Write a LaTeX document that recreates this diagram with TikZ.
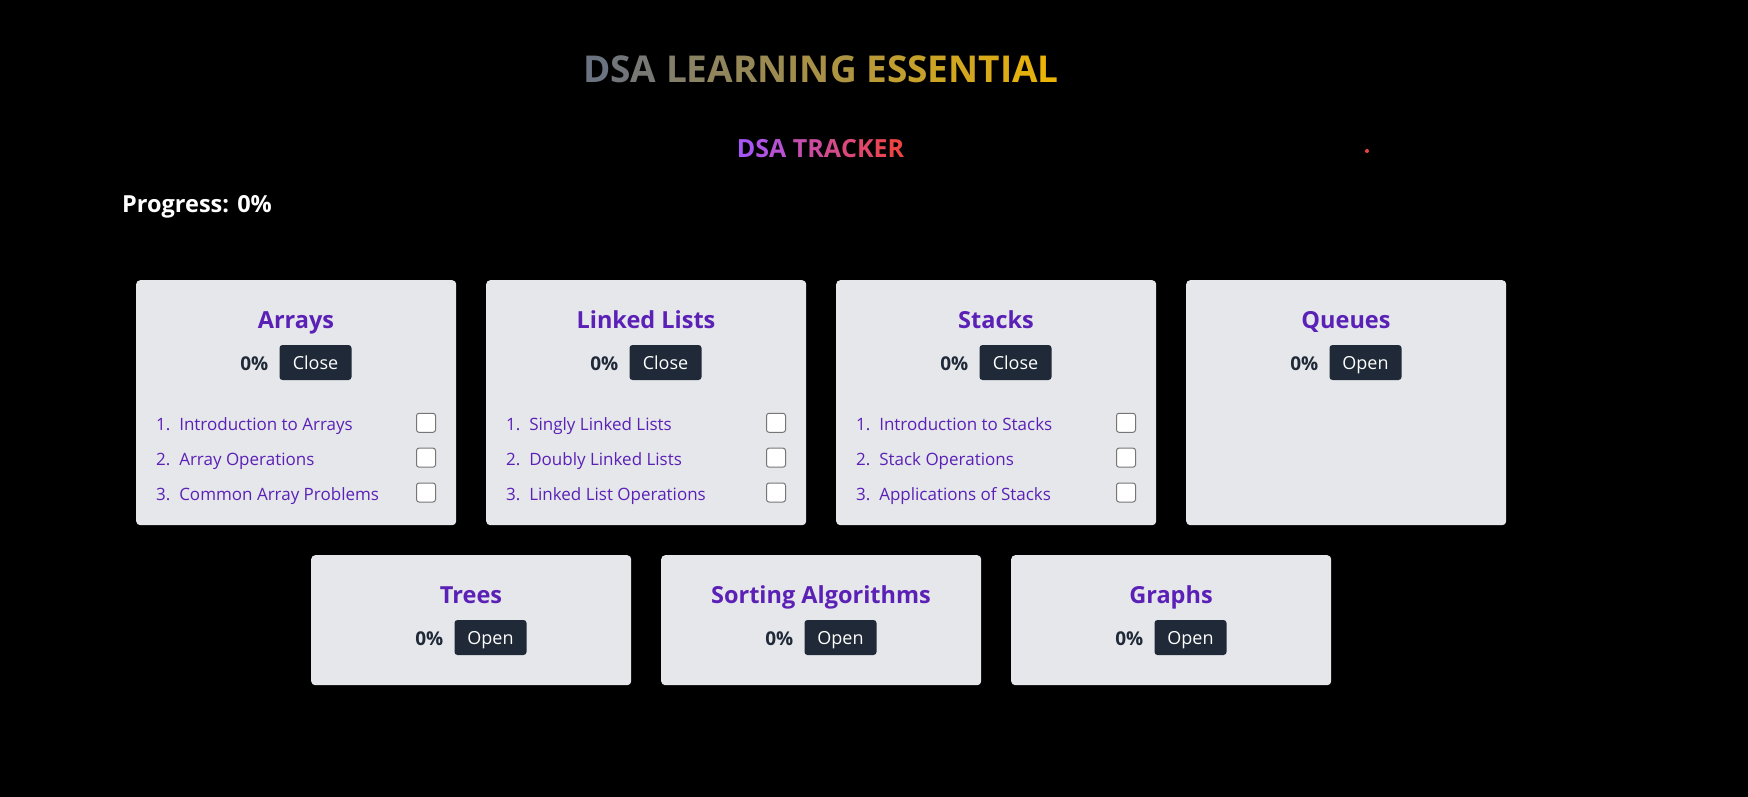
\documentclass[tikz,border=0pt]{standalone}
\usepackage{fontspec}
\setmainfont{Open Sans}
\definecolor{cardc}{HTML}{E5E7EB}
\definecolor{purp}{HTML}{5B21B6}
\definecolor{btnc}{HTML}{1F2937}
\definecolor{pctc}{HTML}{1F2937}
\definecolor{boxb}{HTML}{767676}
\definecolor{tgray}{HTML}{6B7280}
\definecolor{tgold}{HTML}{EAB308}
\definecolor{tpurple}{HTML}{A855F7}
\definecolor{tred}{HTML}{EF4444}
\newcommand\gA[2]{\textcolor{tgold!#1!tgray}{#2}}
\newcommand\gB[2]{\textcolor{tred!#1!tpurple}{#2}}
\newcommand\cardtop[6]{%
  \node[card, minimum height=#4] (#1) at (#2,#3) {};
  \node[ctitle] (#1-title) at ({#2+160},{#3+48}) {#5};
  \node[pct] (#1-pct) at ({#2+132.5},{#3+90.5}) {0\%};
  \node[btn] (#1-btn) at ({#2+179.5},{#3+82.5}) {#6};
}
\newcommand\cditem[5]{%
  \node[itemtxt] (#1-i#4) at ({#2+20},{#3+150.3+34.85*(#4-1)}) {#4.\ \ #5};
  \node[chk] (#1-c#4) at ({#2+290},{#3+142.8+34.85*(#4-1)}) {};
}
\begin{document}
\begin{tikzpicture}[x=1pt,y=-1pt,
  card/.style={fill=cardc, rounded corners=4pt, anchor=north west, minimum width=320pt, inner sep=0pt},
  ctitle/.style={anchor=base, inner sep=0pt, text=purp, font=\fontsize{23.5}{26}\selectfont\bfseries},
  pct/.style={anchor=base east, inner sep=0pt, text=pctc, font=\fontsize{19}{21}\selectfont\bfseries},
  btn/.style={fill=btnc, text=white, rounded corners=3pt, minimum width=72pt, minimum height=35pt, inner sep=0pt, text height=14pt, text depth=0pt, font=\fontsize{18}{20}\selectfont},
  itemtxt/.style={anchor=base west, inner sep=0pt, text=purp, font=\fontsize{17}{20}\selectfont},
  chk/.style={draw=boxb, line width=1pt, fill=white, rounded corners=2.5pt, minimum size=19pt, inner sep=0pt},
]
\fill[black] (0,0) rectangle (1748,797);
\useasboundingbox (0,0) rectangle (1748,797);

\node[anchor=base, inner sep=0pt, font=\fontsize{37}{40}\selectfont\bfseries] (title) at (821,83)
  {\gA{0}{D}\gA{5}{S}\gA{10}{A} \gA{19}{L}\gA{24}{E}\gA{29}{A}\gA{33}{R}\gA{38}{N}\gA{43}{I}\gA{48}{N}\gA{52}{G} \gA{62}{E}\gA{67}{S}\gA{71}{S}\gA{76}{E}\gA{81}{N}\gA{86}{T}\gA{90}{I}\gA{95}{A}\gA{100}{L}};
\node[anchor=base, inner sep=0pt, font=\fontsize{25}{28}\selectfont\bfseries] (tracker) at (820.5,157.5)
  {\gB{0}{D}\gB{10}{S}\gB{20}{A} \gB{40}{T}\gB{50}{R}\gB{60}{A}\gB{70}{C}\gB{80}{K}\gB{90}{E}\gB{100}{R}};
\node[circle, fill=tred, minimum size=4pt, inner sep=0pt] (dot) at (1367,151) {};
\node[anchor=base west, inner sep=0pt, text=white, font=\fontsize{23.5}{28}\selectfont\bfseries] (progress) at (122,212.5) {Progress: 0\%};

\cardtop{arr}{136}{280}{245pt}{Arrays}{Close}
\cditem{arr}{136}{280}{1}{Introduction to Arrays}
\cditem{arr}{136}{280}{2}{Array Operations}
\cditem{arr}{136}{280}{3}{Common Array Problems}

\cardtop{ll}{486}{280}{245pt}{Linked Lists}{Close}
\cditem{ll}{486}{280}{1}{Singly Linked Lists}
\cditem{ll}{486}{280}{2}{Doubly Linked Lists}
\cditem{ll}{486}{280}{3}{Linked List Operations}

\cardtop{stk}{836}{280}{245pt}{Stacks}{Close}
\cditem{stk}{836}{280}{1}{Introduction to Stacks}
\cditem{stk}{836}{280}{2}{Stack Operations}
\cditem{stk}{836}{280}{3}{Applications of Stacks}

\cardtop{que}{1186}{280}{245pt}{Queues}{Open}

\cardtop{tree}{311}{555}{130pt}{Trees}{Open}
\cardtop{sort}{661}{555}{130pt}{Sorting Algorithms}{Open}
\cardtop{graph}{1011}{555}{130pt}{Graphs}{Open}
\end{tikzpicture}
\end{document}
